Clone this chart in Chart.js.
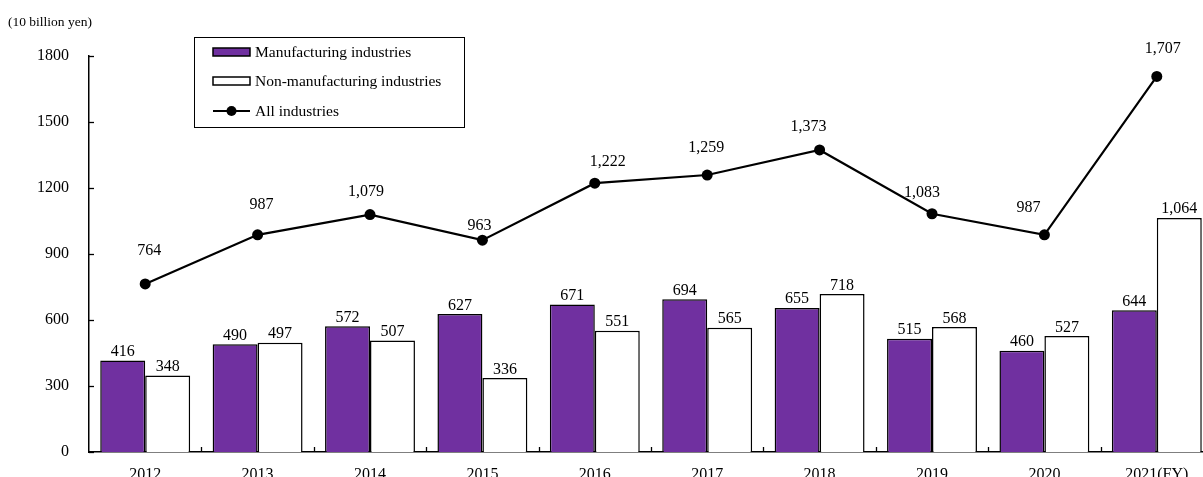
<!DOCTYPE html>
<html>
<head>
<meta charset="utf-8">
<script src="https://cdn.jsdelivr.net/npm/chart.js@4/dist/chart.umd.min.js"></script>
<style>
  html, body { margin: 0; padding: 0; background: #fff; overflow: hidden; }
  canvas { display: block; }
</style>
</head>
<body>
<canvas id="chart" width="1203" height="477"></canvas>
<script>
// Ordinary profits by fiscal year (unit: 10 billion yen)
const years = ['2012', '2013', '2014', '2015', '2016', '2017', '2018', '2019', '2020', '2021(FY)'];
const manufacturing = [416, 490, 572, 627, 671, 694, 655, 515, 460, 644];
const nonManufacturing = [348, 497, 507, 336, 551, 565, 718, 568, 527, 1064];
const allIndustries = [764, 987, 1079, 963, 1222, 1259, 1373, 1083, 987, 1707];
const yTicks = [0, 300, 600, 900, 1200, 1500, 1800];

const seriesNames = ['Manufacturing industries', 'Non-manufacturing industries', 'All industries'];
const unitLabel = '(10 billion yen)';

// label placement tweaks for the total line (pixels above / sideways from each point)
const totalLabelLift = [34, 31, 24, 16, 23, 29, 24, 22, 28, 29];
const totalLabelShift = [4, 4, -4, -3, 13, -1, -11, -10, -16, 6];

const SERIF = "'Liberation Serif', 'Times New Roman', serif";
const PURPLE = '#7030A0';
const PLOT_RIGHT = 1213;  // last category runs slightly past the canvas edge
const PLOT_BOTTOM = 452;  // baseline of the plot, x labels sit below and get cropped
const fmt = v => v.toLocaleString('en-US');

// pin the plot rectangle: widen the category axis and drop the baseline
const pinPlot = {
  id: 'pinPlot',
  afterLayout(chart) {
    const xs = chart.scales.x, ys = chart.scales.y;
    xs.right = PLOT_RIGHT;
    xs.width = xs.right - xs.left;
    xs.top = PLOT_BOTTOM;
    xs.bottom = PLOT_BOTTOM + xs.height;
    xs.configure();
    ys.bottom = PLOT_BOTTOM;
    ys.height = ys.bottom - ys.top;
    ys.configure();
    const a = chart.chartArea;
    a.right = PLOT_RIGHT;
    a.width = a.right - a.left;
    a.bottom = PLOT_BOTTOM;
    a.height = a.bottom - a.top;
  }
};

const decorations = {
  id: 'decorations',
  afterDatasetsDraw(chart) {
    const ctx = chart.ctx;
    const ys = chart.scales.y;
    const area = chart.chartArea;
    ctx.save();

    // inward tick marks
    ctx.strokeStyle = '#000';
    ctx.lineWidth = 1.3;
    yTicks.forEach(v => {
      const y = Math.round(ys.getPixelForValue(v)) + 0.5;
      ctx.beginPath();
      ctx.moveTo(area.left, y);
      ctx.lineTo(area.left + 5, y);
      ctx.stroke();
    });
    const step = (area.right - area.left) / years.length;
    for (let i = 1; i <= years.length; i++) {
      const x = Math.round(area.left + i * step) + 0.5;
      ctx.beginPath();
      ctx.moveTo(x, area.bottom);
      ctx.lineTo(x, area.bottom - 5);
      ctx.stroke();
    }

    // value labels
    ctx.fillStyle = '#000';
    ctx.font = '16px ' + SERIF;
    ctx.textAlign = 'center';
    ctx.textBaseline = 'alphabetic';
    [0, 1].forEach(di => {
      const meta = chart.getDatasetMeta(di);
      const vals = chart.data.datasets[di].data;
      meta.data.forEach((bar, i) => {
        ctx.fillText(fmt(vals[i]), bar.x, bar.y - 4.5);
      });
    });
    const lineMeta = chart.getDatasetMeta(2);
    lineMeta.data.forEach((pt, i) => {
      ctx.fillText(fmt(allIndustries[i]), pt.x + totalLabelShift[i], pt.y - totalLabelLift[i] + 5.5);
    });

    // unit caption
    ctx.font = '13.5px ' + SERIF;
    ctx.textAlign = 'left';
    ctx.fillText(unitLabel, 8, 26);

    // legend box
    const bx = 194.5, by = 37.5, bw = 270, bh = 90;
    ctx.fillStyle = '#fff';
    ctx.fillRect(bx, by, bw, bh);
    ctx.strokeStyle = '#000';
    ctx.lineWidth = 1;
    ctx.strokeRect(bx, by, bw, bh);
    ctx.font = '15.5px ' + SERIF;
    ctx.textBaseline = 'middle';
    const rows = [52, 81, 111];
    ctx.lineWidth = 1.5;
    ctx.fillStyle = PURPLE;
    ctx.fillRect(213, rows[0] - 4, 37, 8);
    ctx.strokeRect(213, rows[0] - 4, 37, 8);
    ctx.fillStyle = '#fff';
    ctx.fillRect(213, rows[1] - 4, 37, 8);
    ctx.strokeRect(213, rows[1] - 4, 37, 8);
    ctx.lineWidth = 2;
    ctx.beginPath();
    ctx.moveTo(213, rows[2]);
    ctx.lineTo(250, rows[2]);
    ctx.stroke();
    ctx.fillStyle = '#000';
    ctx.beginPath();
    ctx.arc(231.5, rows[2], 5, 0, Math.PI * 2);
    ctx.fill();
    seriesNames.forEach((name, i) => {
      ctx.fillText(name, 255, rows[i] + 1);
    });

    ctx.restore();
  }
};

new Chart(document.getElementById('chart'), {
  type: 'bar',
  data: {
    labels: years,
    datasets: [
      {
        label: seriesNames[0],
        data: manufacturing,
        backgroundColor: PURPLE,
        borderColor: '#000',
        borderWidth: 1.5,
        categoryPercentage: 0.8,
        barPercentage: 1.0,
        order: 1
      },
      {
        label: seriesNames[1],
        data: nonManufacturing,
        backgroundColor: '#fff',
        borderColor: '#000',
        borderWidth: 1.5,
        categoryPercentage: 0.8,
        barPercentage: 1.0,
        order: 1
      },
      {
        type: 'line',
        label: seriesNames[2],
        data: allIndustries,
        borderColor: '#000',
        backgroundColor: '#000',
        borderWidth: 2.2,
        pointRadius: 5.5,
        pointBackgroundColor: '#000',
        pointBorderWidth: 0,
        tension: 0,
        order: 0
      }
    ]
  },
  options: {
    responsive: false,
    animation: false,
    devicePixelRatio: 1,
    layout: { padding: { top: 56, right: 0, left: 0, bottom: 0 } },
    plugins: {
      legend: { display: false },
      tooltip: { enabled: false },
      title: { display: false }
    },
    scales: {
      x: {
        offset: true,
        grid: { display: false, drawTicks: false },
        border: { display: true, color: '#000', width: 1.5 },
        ticks: {
          color: '#000',
          font: { family: SERIF, size: 16 },
          padding: 13,
          maxRotation: 0,
          autoSkip: false
        },
        afterFit(scale) { scale.height = 25; }
      },
      y: {
        min: 0,
        max: 1800,
        afterBuildTicks(scale) { scale.ticks = yTicks.map(v => ({ value: v })); },
        grid: { display: false, drawTicks: false },
        border: { display: true, color: '#000', width: 1.5 },
        ticks: {
          color: '#000',
          font: { family: SERIF, size: 16 },
          padding: 20,
          callback: v => String(v)
        },
        afterFit(scale) { scale.width = 89; }
      }
    }
  },
  plugins: [pinPlot, decorations]
});
</script>
</body>
</html>
